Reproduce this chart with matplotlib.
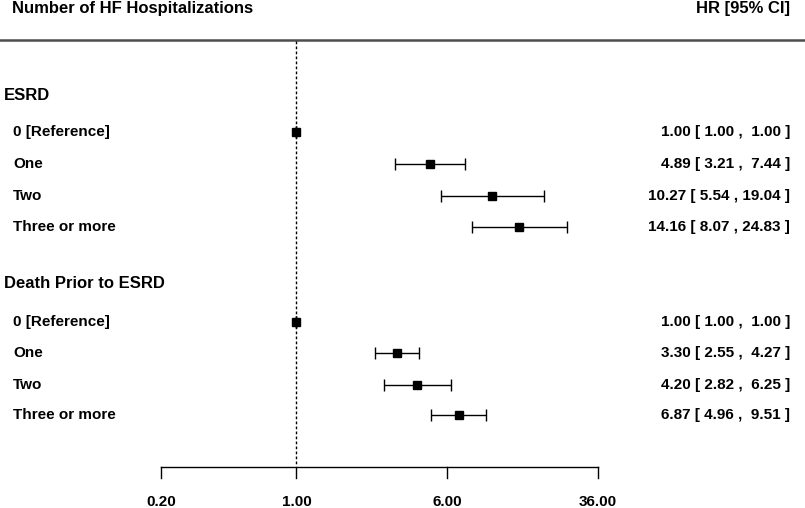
import numpy as np
import matplotlib
matplotlib.use("Agg")
import matplotlib.pyplot as plt

plt.rcParams["font.family"] = ["Liberation Sans", "DejaVu Sans"]

# Data
groups = ["ESRD", "Death Prior to ESRD"]
row_labels = ["0 [Reference]", "One", "Two", "Three or more"]
esrd_hr = [1.00, 4.89, 10.27, 14.16]
esrd_lo = [1.00, 3.21, 5.54, 8.07]
esrd_hi = [1.00, 7.44, 19.04, 24.83]
death_hr = [1.00, 3.30, 4.20, 6.87]
death_lo = [1.00, 2.55, 2.82, 4.96]
death_hi = [1.00, 4.27, 6.25, 9.51]
ticks = [0.20, 1.00, 6.00, 36.00]

W, H = 805, 508
fig = plt.figure(figsize=(W / 100, H / 100), dpi=100)
ax = fig.add_axes([0, 0, 1, 1])
ax.set_xscale("log")
# map 0.2 -> px 161 and 36 -> px 598
k = (598 - 161) / np.log(36 / 0.2)
ax.set_xlim(0.2 * np.exp(-161 / k), 0.2 * np.exp((W - 161) / k))
ax.set_ylim(H, 0)
ax.axis("off")

bold = dict(fontweight="bold", fontsize=11, color="black")
big = dict(fontweight="bold", fontsize=12, color="black")

ax.text(12 / W, 1 - 9 / H, "Number of HF Hospitalizations", transform=ax.transAxes,
        ha="left", va="center", **big)
ax.text(790 / W, 1 - 9 / H, "HR [95% CI]", transform=ax.transAxes,
        ha="right", va="center", **big)
ax.axhline(40, color="#4d4d4d", lw=1.8)

header_y = [95, 283]
row_y = [[132, 164, 196, 227], [322, 353, 385, 415]]
series = [(esrd_hr, esrd_lo, esrd_hi), (death_hr, death_lo, death_hi)]

# reference line at HR = 1
ax.plot([1, 1], [41, 466], color="black", lw=1, linestyle=(0, (2, 1.6)))

for g, hy, ys, (hr, lo, hi) in zip(groups, header_y, row_y, series):
    ax.text(4 / W, 1 - hy / H, g, transform=ax.transAxes, ha="left", va="center", **big)
    for lab, y, h, l, u in zip(row_labels, ys, hr, lo, hi):
        ax.text(13 / W, 1 - y / H, lab, transform=ax.transAxes, ha="left", va="center", **bold)
        ax.errorbar(h, y, xerr=[[h - l], [u - h]], fmt="s", color="black", ms=6,
                    capsize=4, elinewidth=1, capthick=1)
        ax.text(790 / W, 1 - y / H, f"{h:.2f} [ {l:.2f} , {u:5.2f} ]",
                transform=ax.transAxes, ha="right", va="center", **bold)

# bottom axis
ax.plot([ticks[0], ticks[-1]], [467, 467], color="black", lw=1)
for t in ticks:
    ax.plot([t, t], [467, 478], color="black", lw=1)
    ax.text(t, 502, f"{t:.2f}", ha="center", va="center", **bold)

fig.savefig("out.png", dpi=100)
